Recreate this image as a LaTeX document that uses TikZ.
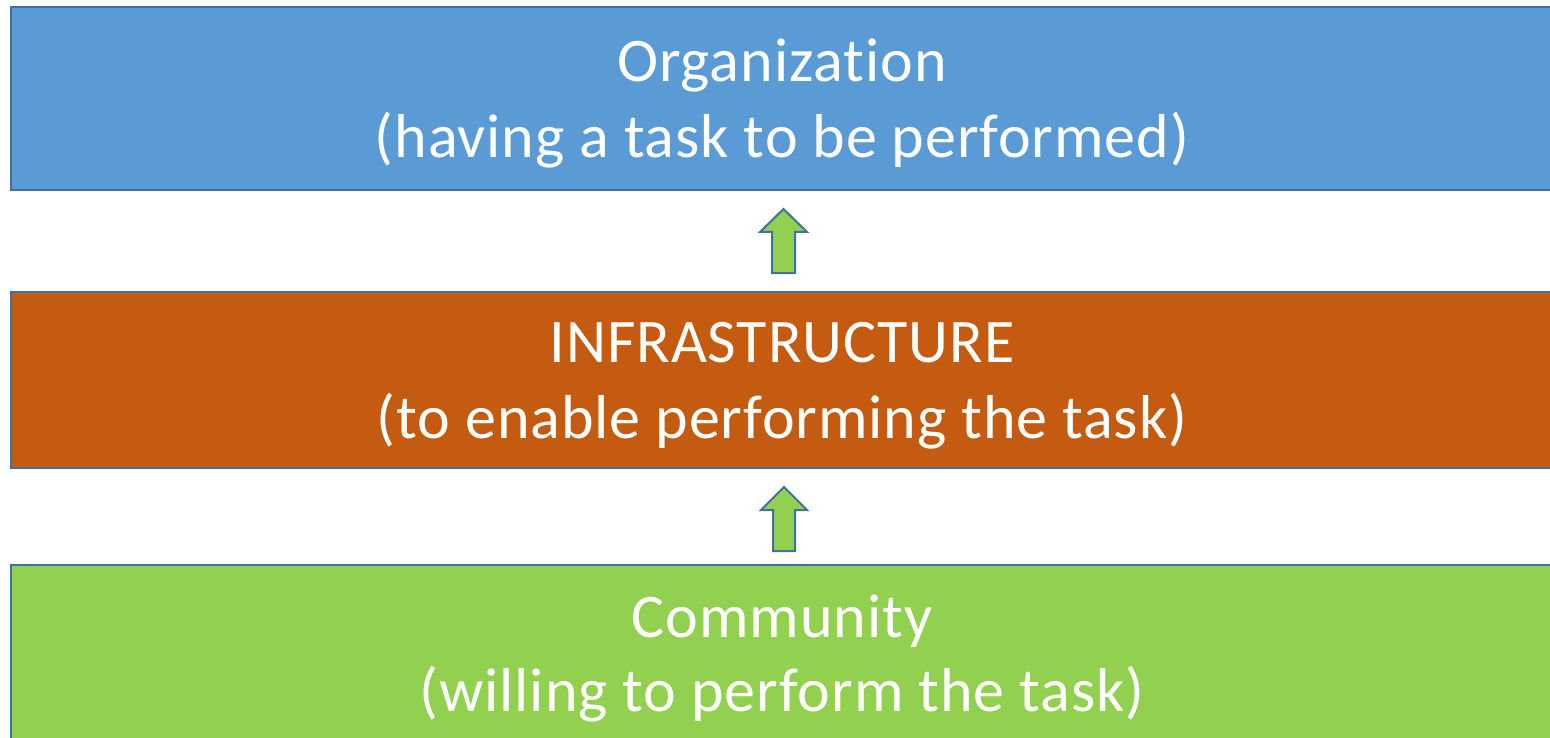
\documentclass[tikz,border=0pt]{standalone}
\usepackage{fontspec}
\setmainfont{Carlito}[Ligatures=NoCommon,LetterSpace=1.5]
\definecolor{bblue}{HTML}{5B9BD5}
\definecolor{borange}{HTML}{C55A11}
\definecolor{bgreen}{HTML}{92D050}
\definecolor{bline}{HTML}{41719C}
\begin{document}
\begin{tikzpicture}[x=1pt,y=-1pt,
  layer/.style={draw=bline,line width=2.2pt,inner sep=0pt,outer sep=0pt},
  lbl/.style={text=white,font=\fontsize{62}{74}\selectfont,anchor=base,inner sep=0pt},
  blockarrow/.style={draw=bline,fill=bgreen,line width=2pt,line join=miter}]
\clip (0,0) rectangle (1550,738);
\fill[white] (0,0) rectangle (1550,738);
\path[layer,fill=bblue] (11,7) rectangle (1555,190);
\node (org) at (783,98) {};
\path[layer,fill=borange] (11,292) rectangle (1555,468);
\node (inf) at (783,380) {};
\path[layer,fill=bgreen] (11,565) rectangle (1555,760);
\node (com) at (783,650) {};
\node[lbl] (t1) at (782,82) {Organization};
\node[lbl] (t2) at (782,158) {(having a task to be performed)};
\node[lbl] (t3) at (782,362) {INFRASTRUCTURE};
\node[lbl] (t4) at (782,438) {(to enable performing the task)};
\node[lbl] (t5) at (782,637) {Community};
\node[lbl] (t6) at (782,711) {(willing to perform the task)};
\draw[blockarrow] (772,273) -- (772,232) -- (760,232) -- (783.5,209) -- (807,232) -- (795,232) -- (795,273) -- cycle;
\draw[blockarrow] (773,551) -- (773,510) -- (761,510) -- (784,487) -- (807,510) -- (795,510) -- (795,551) -- cycle;
\end{tikzpicture}
\end{document}
